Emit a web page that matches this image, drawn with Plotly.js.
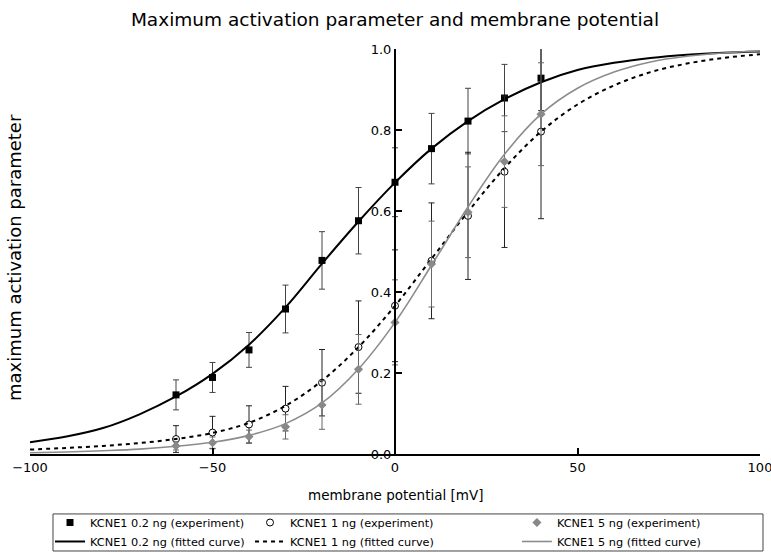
<!DOCTYPE html>
<html>
<head>
<meta charset="utf-8">
<script src="https://cdn.plot.ly/plotly-3.0.1.min.js"></script>
<style>html,body{margin:0;padding:0;background:#fff;}#chart{width:771px;height:552px;}</style>
</head>
<body>
<div id="chart"></div>
<script>
// Experimental data (membrane potential in mV)
const voltage = [-60, -50, -40, -30, -20, -10, 0, 10, 20, 30, 40];
const exp02 = [0.146, 0.189, 0.257, 0.358, 0.478, 0.576, 0.671, 0.754, 0.822, 0.879, 0.928];
const err02 = [0.037, 0.037, 0.043, 0.059, 0.071, 0.082, 0.085, 0.087, 0.081, 0.083, 0.080];
const exp1  = [0.037, 0.053, 0.073, 0.112, 0.176, 0.264, 0.366, 0.477, 0.588, 0.697, 0.796];
const err1  = [0.033, 0.040, 0.046, 0.055, 0.082, 0.114, 0.138, 0.143, 0.157, 0.187, 0.215];
const exp5  = [0.020, 0.028, 0.043, 0.067, 0.121, 0.209, 0.325, 0.469, 0.597, 0.722, 0.839];
const err5  = [0.010, 0.014, 0.016, 0.030, 0.060, 0.086, 0.105, 0.106, 0.112, 0.113, 0.127];

// Fitted curves, every 10 mV
const fitVoltage = [-100, -90, -80, -70, -60, -50, -40, -30, -20, -10, 0, 10, 20, 30, 40, 50, 60, 70, 80, 90, 100];
const fit02 = [0.029, 0.043, 0.064, 0.098, 0.142, 0.198, 0.270, 0.362, 0.470, 0.574, 0.670, 0.754, 0.822, 0.876, 0.918, 0.948, 0.966, 0.978, 0.986, 0.991, 0.994];
const fit1  = [0.011, 0.015, 0.020, 0.027, 0.037, 0.052, 0.077, 0.119, 0.181, 0.264, 0.366, 0.482, 0.598, 0.706, 0.796, 0.863, 0.910, 0.943, 0.964, 0.978, 0.987];
const fit5  = [0.003, 0.005, 0.008, 0.012, 0.019, 0.029, 0.046, 0.075, 0.126, 0.210, 0.325, 0.466, 0.610, 0.740, 0.839, 0.903, 0.943, 0.968, 0.982, 0.990, 0.995];

const xTicks = [-100, -50, 0, 50, 100];
const xTickText = ['−100', '−50', '0', '50', '100'];
const yTicks = [0, 0.2, 0.4, 0.6, 0.8, 1.0];

const FONT = 'DejaVu Sans, Liberation Sans, sans-serif';

const traces = [
  {x: voltage, y: exp02, name: 'KCNE1 0.2 ng (experiment)', type: 'scatter', mode: 'markers', legend: 'legend',
   marker: {symbol: 'square', size: 7, color: '#000'},
   error_y: {type: 'data', array: err02, visible: true, color: '#444', thickness: 1, width: 3},
   cliponaxis: false},
  {x: fitVoltage, y: fit02, name: 'KCNE1 0.2 ng (fitted curve)', type: 'scatter', mode: 'lines', legend: 'legend',
   line: {color: '#000', width: 2, shape: 'spline'}},
  {x: voltage, y: exp1, name: 'KCNE1 1 ng (experiment)', type: 'scatter', mode: 'markers', legend: 'legend2',
   marker: {symbol: 'circle', size: 7, color: '#fff', line: {color: '#000', width: 1}},
   error_y: {type: 'data', array: err1, visible: true, color: '#222', thickness: 1, width: 3},
   cliponaxis: false},
  {x: fitVoltage, y: fit1, name: 'KCNE1 1 ng (fitted curve)', type: 'scatter', mode: 'lines', legend: 'legend2',
   line: {color: '#000', width: 2, dash: '4px,4px', shape: 'spline'}},
  {x: voltage, y: exp5, name: 'KCNE1 5 ng (experiment)', type: 'scatter', mode: 'markers', legend: 'legend3',
   marker: {symbol: 'diamond', size: 7, color: '#888'},
   error_y: {type: 'data', array: err5, visible: true, color: '#666', thickness: 1, width: 3},
   cliponaxis: false},
  {x: fitVoltage, y: fit5, name: 'KCNE1 5 ng (fitted curve)', type: 'scatter', mode: 'lines', legend: 'legend3',
   line: {color: '#8c8c8c', width: 1.6, shape: 'spline'}}
];

function legendAt(x) {
  return {orientation: 'v', x: x, xanchor: 'left', y: -0.1333, yanchor: 'top',
          borderwidth: 0, bgcolor: 'rgba(0,0,0,0)', itemwidth: 30, tracegroupgap: 0,
          font: {family: FONT, size: 11.3, color: '#000'}};
}

const layout = {
  width: 771, height: 552,
  margin: {l: 30, r: 11, t: 49, b: 98, autoexpand: false},
  paper_bgcolor: '#fff', plot_bgcolor: '#fff',
  font: {family: FONT, color: '#000', size: 13},
  title: {text: 'Maximum activation parameter and membrane potential', xref: 'paper', x: 0.5, xanchor: 'center',
          y: 0.965, yanchor: 'middle', font: {family: FONT, size: 18.5, color: '#000'}},
  showlegend: true,
  xaxis: {range: [-100, 100.0001], tickvals: xTicks, ticktext: xTickText, ticklabeloverflow: 'allow',
          ticks: 'inside', ticklen: 6, tickwidth: 2, tickcolor: '#000',
          showline: true, linecolor: '#000', linewidth: 2, showgrid: false, zeroline: false,
          tickfont: {family: FONT, size: 13}, fixedrange: true},
  yaxis: {range: [0, 1.0], tickvals: yTicks, tickformat: '.1f', anchor: 'free', position: 0.5,
          ticks: 'inside', ticklen: 6, tickwidth: 2, tickcolor: '#000',
          showline: true, linecolor: '#000', linewidth: 2, showgrid: false, zeroline: false,
          tickfont: {family: FONT, size: 13}, fixedrange: true},
  legend: legendAt(0.0274),
  legend2: legendAt(0.3014),
  legend3: legendAt(0.667),
  shapes: [
    {type: 'rect', xref: 'paper', yref: 'paper', x0: 0.0315, x1: 1.0041, y0: -0.148, y1: -0.2395,
     line: {color: '#444', width: 1}, fillcolor: 'rgba(0,0,0,0)', layer: 'below'}
  ],
  annotations: [
    {text: 'maximum activation parameter', xref: 'paper', yref: 'paper', x: -0.0205, y: 0.484,
     xanchor: 'center', yanchor: 'middle', textangle: -90, showarrow: false,
     font: {family: FONT, size: 18, color: '#000'}},
    {text: 'membrane potential [mV]', xref: 'paper', yref: 'paper', x: 0.5, y: -0.1,
     xanchor: 'center', yanchor: 'middle', showarrow: false,
     font: {family: FONT, size: 13.5, color: '#000'}}
  ]
};

Plotly.newPlot('chart', traces, layout, {displayModeBar: false, staticPlot: true});
</script>
</body>
</html>
